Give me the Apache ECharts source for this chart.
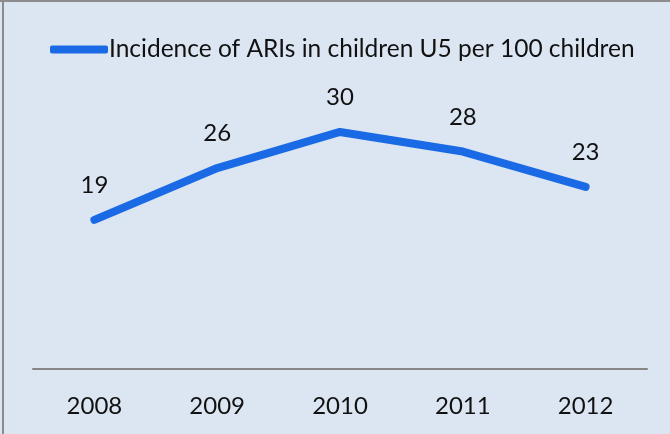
<!DOCTYPE html>
<html><head><meta charset="utf-8">
<script src="https://cdn.jsdelivr.net/npm/echarts@6/dist/echarts.min.js"></script>
<style>html,body{margin:0;padding:0;background:#dce6f2;}#c{width:670px;height:434px;}</style>
</head><body><div id="c"></div>
<script>
const categories = ['2008', '2009', '2010', '2011', '2012'];
const seriesName = 'Incidence of ARIs in children U5 per 100 children';
const values = [19, 25.6, 30.2, 27.7, 23.2];

const chart = echarts.init(document.getElementById('c'));
const font = 'Lato, "Open Sans", sans-serif';
chart.setOption({
  backgroundColor: '#dce6f2',
  animation: false,
  graphic: [
    { type: 'rect', shape: { x: 0, y: 0, width: 670, height: 2 }, style: { fill: '#8c8c8c' } },
    { type: 'rect', shape: { x: 2, y: 0, width: 2, height: 434 }, style: { fill: '#8c8c8c' } }
  ],
  legend: {
    top: 32, left: 45,
    itemWidth: 58, itemHeight: 8, itemGap: 4,
    icon: 'roundRect',
    textStyle: { fontFamily: font, fontSize: 24.5, color: '#111', padding: [0,0,0,-4] },
    data: [seriesName]
  },
  grid: { left: 33, right: 23, top: 55, bottom: 65 },
  xAxis: {
    type: 'category', data: categories, boundaryGap: true,
    axisLine: { lineStyle: { color: '#868686', width: 2 } },
    axisTick: { show: false },
    axisLabel: { fontFamily: font, fontSize: 24, color: '#111', margin: 25 }
  },
  yAxis: { type: 'value', min: 0, max: 40, show: false, splitLine: { show: false } },
  series: [{
    name: seriesName, type: 'line', data: values,
    symbol: 'circle', symbolSize: 1, showSymbol: true,
    lineStyle: { color: '#1a6ae6', width: 8, cap: 'round', join: 'round' },
    itemStyle: { color: '#1a6ae6' },
    label: { show: true, position: 'top', distance: 22, fontFamily: font, fontSize: 24, color: '#111',
      formatter: p => Math.round(p.value) }
  }]
});
</script></body></html>
